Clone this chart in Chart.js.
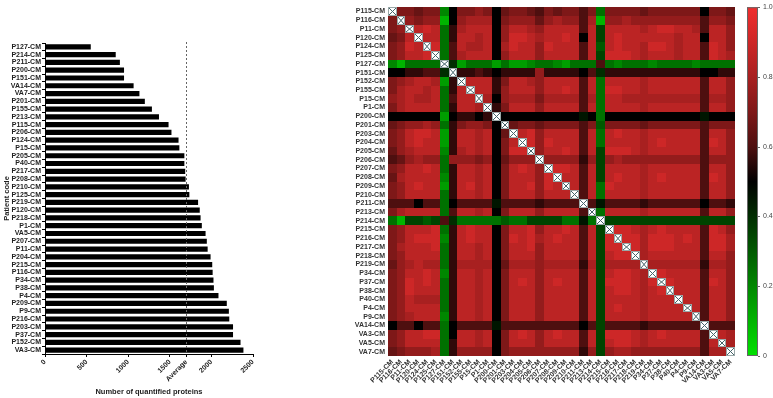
<!DOCTYPE html>
<html lang="en">
<head>
<meta charset="UTF-8">
<title>Quantified proteins and sample correlation</title>
<script src="https://cdn.jsdelivr.net/npm/chart.js"></script>
<style>
  body { margin: 0; background: #fff; }
  #bars { position: absolute; left: 0; top: 0; }
  #heat { position: absolute; left: 290px; top: 0; }
</style>
</head>
<body>
<canvas id="bars" width="290" height="398"></canvas>
<canvas id="heat" width="483" height="398"></canvas>
<script>
// left panel: proteins per patient, sorted
const barCodes = ["P127-CM","P214-CM","P211-CM","P200-CM","P151-CM","VA14-CM","VA7-CM","P201-CM","P155-CM","P213-CM",
  "P115-CM","P206-CM","P124-CM","P15-CM","P205-CM","P40-CM","P217-CM","P208-CM","P210-CM","P125-CM",
  "P219-CM","P120-CM","P218-CM","P1-CM","VA5-CM","P207-CM","P11-CM","P204-CM","P215-CM","P116-CM",
  "P34-CM","P38-CM","P4-CM","P209-CM","P9-CM","P216-CM","P203-CM","P37-CM","P152-CM","VA3-CM"];
const barCounts = [550, 850, 900, 950, 950, 1065, 1135, 1200, 1285, 1370,
  1485, 1520, 1605, 1615, 1675, 1675, 1685, 1690, 1730, 1735,
  1840, 1860, 1870, 1885, 1930, 1945, 1955, 1990, 2010, 2015,
  2025, 2030, 2085, 2185, 2210, 2215, 2260, 2260, 2350, 2385];
const countTicks = [0, 500, 1000, 1500, 2000, 2500];

// right panel: correlation matrix, lower triangle, one letter per cell
// a = 0.00, b = 0.05 ... u = 1.00
const heatCodes = ["P115-CM","P116-CM","P11-CM","P120-CM","P124-CM","P125-CM","P127-CM","P151-CM","P152-CM","P155-CM",
  "P15-CM","P1-CM","P200-CM","P201-CM","P203-CM","P204-CM","P205-CM","P206-CM","P207-CM","P208-CM",
  "P209-CM","P210-CM","P211-CM","P213-CM","P214-CM","P215-CM","P216-CM","P217-CM","P218-CM","P219-CM",
  "P34-CM","P37-CM","P38-CM","P40-CM","P4-CM","P9-CM","VA14-CM","VA3-CM","VA5-CM","VA7-CM"];
const heatRows = [
  "",
  "o",
  "op",
  "nor",
  "opsr",
  "oprrs",
  "ecffff",
  "kkllmmi",
  "opqrrqdl",
  "oqrrqrflr",
  "pqrqqrfmrr",
  "oqrrrrflrrq",
  "kkkkkkdkllkl",
  "noppqpfloppok",
  "oprssrdlrrqrkn",
  "oprsrrdlrrqrkor",
  "npqrrrelqrqrkoss",
  "mnpqppfpppopknppp",
  "oprrsrflrrqrkorsrp",
  "nqrrrrelrrqrkorrrps",
  "oprsrrdlrsqrkorrspsr",
  "oprrrrflrrqrkorrrprrr",
  "mmmkmmfkmmmmjmmmmlmmmm",
  "oqrrrrfmrrqrkorrrprrrrm",
  "fchhghmifffffgffhhhhffjf",
  "oprrrsflrsrrkorrsprrsrmrh",
  "oprssselrsrrkosrsqrsrrmrhs",
  "oqrrrsflrrqrkorrsprrrrmrhss",
  "oprrrrflrrqrkorrrprrrrmrhrss",
  "npqrqqflqqqqknqqqpqqqqlqhqqqq",
  "oprrsrelrrqrkorrrprrrrmrhrssrq",
  "opsrsrflrrqrkorsrprsrrmrhsssrqs",
  "opsrrrflrrqrkorrrprrrrmrhrssrqrs",
  "oprqqqflrrqrkorrrprrrrmrhrrrrqrrr",
  "oprrrrflrrqrkorrrprrrrmrhrsrrqrrrr",
  "opqrrrelrrqrkorrrprrrrmrhrrrrqrrrrr",
  "kmmkmmfkmmmmjmmmmmmmmmkmhmmmmlmmmmmm",
  "oprrssfkrrqrkorsrprsrrmrhsssrqrsrrrrm",
  "oprrrrflrrqrkorrrprrrrmrhrssrqrrrrrrmr",
  "nopppqflppppkopppppppplphpqqppppppppmqq"
];
const levelChars = "abcdefghijklmnopqrstu";
const colorTicks = [0, 0.2, 0.4, 0.6, 0.8, 1.0];

const family = 'Arial, "Liberation Sans", sans-serif';
const boldFont = { family: family, size: 7, weight: 'bold' };
const avgCount = barCounts.reduce((a, b) => a + b, 0) / barCounts.length;

function cellValue(i, j) {
  if (i === j) return null;
  const ch = i > j ? heatRows[i][j] : heatRows[j][i];
  return levelChars.indexOf(ch) / 20;
}

// green -> black -> red
function heatColor(v) {
  if (v >= 0.5) {
    const t = Math.pow((v - 0.5) / 0.5, 0.7);
    return 'rgb(' + Math.round(240 * t) + ',' + Math.round(46 * t) + ',' + Math.round(46 * t) + ')';
  }
  const t = (0.5 - v) / 0.5;
  return 'rgb(0,' + Math.round(225 * t) + ',0)';
}

const averageLine = {
  id: 'averageLine',
  afterDatasetsDraw(chart) {
    const { ctx, chartArea, scales } = chart;
    const x = Math.round(scales.x.getPixelForValue(avgCount)) + 0.5;
    ctx.save();
    ctx.strokeStyle = '#666';
    ctx.lineWidth = 1;
    ctx.setLineDash([2, 2]);
    ctx.beginPath();
    ctx.moveTo(x, chartArea.top - 1);
    ctx.lineTo(x, chartArea.bottom);
    ctx.stroke();
    ctx.restore();
  }
};

new Chart(document.getElementById('bars'), {
  type: 'bar',
  data: {
    labels: barCodes,
    datasets: [{ data: barCounts, backgroundColor: '#000', barPercentage: 0.9, categoryPercentage: 0.74 }]
  },
  options: {
    indexAxis: 'y',
    responsive: false,
    animation: false,
    devicePixelRatio: 1,
    layout: { padding: { top: 43, right: 37, left: 0, bottom: 0 } },
    plugins: { legend: { display: false }, tooltip: { enabled: false } },
    scales: {
      x: {
        min: 0,
        max: 2500,
        afterBuildTicks(s) {
          s.ticks = [0, 500, 1000, 1500, avgCount, 2000, 2500].map(v => ({ value: v }));
        },
        ticks: {
          font: boldFont, color: '#222', minRotation: 45, maxRotation: 45, padding: 1,
          callback: v => v === avgCount ? 'Average' : String(v)
        },
        grid: { drawOnChartArea: false, tickLength: 3, color: '#000' },
        border: { color: '#000' },
        title: {
          display: true, text: 'Number of quantified proteins', color: '#222',
          font: { family: family, size: 7.5, weight: 'bold' }, padding: { top: 2, bottom: 2 }
        },
        afterFit(s) { s.height = 44; }
      },
      y: {
        ticks: { font: boldFont, color: '#222', padding: 1, autoSkip: false },
        grid: { drawOnChartArea: false, tickLength: 3, color: '#000' },
        border: { color: '#000' },
        title: {
          display: true, text: 'Patient code', color: '#222',
          font: { family: family, size: 7.5, weight: 'bold' }, padding: { top: 2, bottom: 2 }
        },
        afterFit(s) { s.width = 45; }
      }
    }
  },
  plugins: [averageLine]
});

const heatCells = {
  id: 'heatCells',
  beforeDatasetsDraw(chart) {
    const { ctx, scales: { x, y } } = chart;
    const n = heatCodes.length;
    ctx.save();
    for (let i = 0; i < n; i++) {
      const ya = Math.round(y.getPixelForValue(i - 0.5));
      const yb = Math.round(y.getPixelForValue(i + 0.5));
      const y0 = Math.min(ya, yb), h = Math.abs(yb - ya);
      for (let j = 0; j < n; j++) {
        const x0 = Math.round(x.getPixelForValue(j - 0.5));
        const x1 = Math.round(x.getPixelForValue(j + 0.5));
        const v = cellValue(i, j);
        if (v === null) {
          ctx.fillStyle = '#fff';
          ctx.fillRect(x0, y0, x1 - x0, h);
          ctx.strokeStyle = '#9aa8a8';
          ctx.lineWidth = 1;
          ctx.strokeRect(x0 + 0.5, y0 + 0.5, x1 - x0 - 1, h - 1);
          ctx.strokeStyle = '#46646a';
          ctx.beginPath();
          ctx.moveTo(x0 + 1, y0 + 1); ctx.lineTo(x1 - 1, y0 + h - 1);
          ctx.moveTo(x1 - 1, y0 + 1); ctx.lineTo(x0 + 1, y0 + h - 1);
          ctx.stroke();
        } else {
          ctx.fillStyle = heatColor(v);
          ctx.fillRect(x0, y0, x1 - x0, h);
        }
      }
    }
    ctx.restore();
  },
  afterDraw(chart) {
    // colour key, placed on the 'c' scale
    const { ctx } = chart;
    const c = chart.scales.c;
    const top = c.getPixelForValue(1), bottom = c.getPixelForValue(0);
    const left = Math.round(c.left) + 12, w = 11;
    const g = ctx.createLinearGradient(0, bottom, 0, top);
    [0, 0.1, 0.2, 0.3, 0.4, 0.5, 0.6, 0.7, 0.8, 0.9, 1].forEach(s => g.addColorStop(s, heatColor(s)));
    ctx.save();
    ctx.fillStyle = g;
    ctx.fillRect(left, top, w, bottom - top);
    ctx.strokeStyle = '#666';
    ctx.lineWidth = 1;
    ctx.strokeRect(left + 0.5, top + 0.5, w - 1, bottom - top - 1);
    ctx.beginPath();
    ctx.font = '7px ' + family;
    ctx.fillStyle = '#444';
    ctx.textAlign = 'left';
    ctx.textBaseline = 'middle';
    colorTicks.forEach(v => {
      const ty = Math.round(c.getPixelForValue(v)) + 0.5;
      ctx.moveTo(left + w, ty); ctx.lineTo(left + w + 2, ty);
      ctx.fillText(v === 0 ? '0' : v.toFixed(1), left + w + 5, ty);
    });
    ctx.stroke();
    ctx.restore();
  }
};

const cellTicks = heatCodes.map((_, i) => ({ value: i }));

new Chart(document.getElementById('heat'), {
  type: 'scatter',
  data: { datasets: [{ data: [], pointRadius: 0 }] },
  options: {
    responsive: false,
    animation: false,
    devicePixelRatio: 1,
    layout: { padding: { top: 7, right: 0, left: 0, bottom: 0 } },
    plugins: { legend: { display: false }, tooltip: { enabled: false } },
    scales: {
      x: {
        type: 'linear', min: -0.5, max: 39.5,
        afterBuildTicks(s) { s.ticks = cellTicks.map(t => ({ value: t.value })); },
        ticks: {
          font: boldFont, color: '#333', minRotation: 45, maxRotation: 45, padding: 2, autoSkip: false,
          callback: v => heatCodes[v]
        },
        grid: { display: false, drawTicks: false },
        border: { display: false },
        afterFit(s) { s.height = 42; }
      },
      y: {
        type: 'linear', reverse: true, min: -0.5, max: 39.5,
        afterBuildTicks(s) { s.ticks = cellTicks.map(t => ({ value: t.value })); },
        ticks: { font: boldFont, color: '#333', padding: 3, autoSkip: false, callback: v => heatCodes[v] },
        grid: { display: false, drawTicks: false },
        border: { display: false },
        afterFit(s) { s.width = 98; }
      },
      c: {
        type: 'linear', axis: 'y', position: 'right', min: 0, max: 1,
        ticks: { display: false },
        grid: { display: false, drawTicks: false },
        border: { display: false },
        afterFit(s) { s.width = 38; }
      }
    }
  },
  plugins: [heatCells]
});
</script>
</body>
</html>
